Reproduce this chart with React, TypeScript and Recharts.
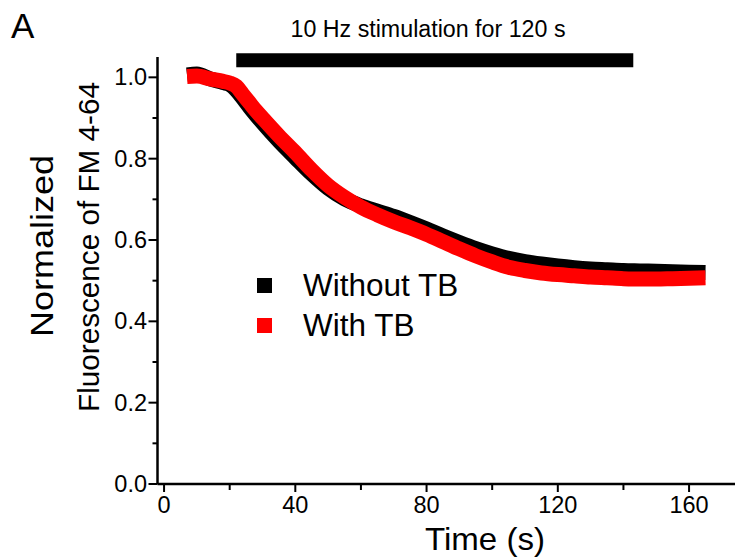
import React from "react";
import { LineChart, Line, XAxis, YAxis, ReferenceArea, Legend } from "recharts";

// time points (s)
const times = [
  7, 10, 14, 18, 20, 22, 24, 26, 28, 30, 35, 40, 45, 50, 55, 60, 65, 70, 75, 80,
  85, 90, 95, 100, 105, 110, 115, 120, 125, 130, 135, 140, 145, 150, 155, 160, 165,
];
const withoutTB = [
  1.006, 1.008, 0.996, 0.987, 0.982, 0.968, 0.948, 0.927, 0.907, 0.888, 0.843,
  0.802, 0.762, 0.727, 0.701, 0.684, 0.671, 0.658, 0.643, 0.627, 0.61, 0.594,
  0.579, 0.566, 0.555, 0.547, 0.541, 0.536, 0.532, 0.529, 0.527, 0.525, 0.524,
  0.523, 0.522, 0.521, 0.52,
];
const withTB = [
  1.002, 1.003, 0.996, 0.99, 0.986, 0.978, 0.958, 0.938, 0.918, 0.9, 0.856,
  0.815, 0.772, 0.734, 0.705, 0.681, 0.662, 0.645, 0.63, 0.614, 0.596, 0.578,
  0.561, 0.546, 0.533, 0.525, 0.519, 0.515, 0.512, 0.509, 0.507, 0.505, 0.504,
  0.504, 0.505, 0.506, 0.507,
];
const seriesNames = ["Without TB", "With TB"];
const stimulation = [22, 143];
const xTicks = [0, 20, 40, 60, 80, 100, 120, 140, 160];
const yTicks = [0, 0.1, 0.2, 0.3, 0.4, 0.5, 0.6, 0.7, 0.8, 0.9, 1.0];

const data = times.map((t, i) => ({ t, without: withoutTB[i], with: withTB[i] }));

const FONT = '"Liberation Sans", Arial, Helvetica, sans-serif';

const XTick = (props: any) => {
  const { x, y, payload } = props;
  const major = payload.value % 40 === 0;
  return (
    <g>
      <line x1={x} x2={x} y1={y} y2={y + (major ? 8 : 6)} stroke="#000" strokeWidth={2} />
      {major && (
        <text x={x} y={y + 29} textAnchor="middle" fontSize={23.5} fill="#000" fontFamily={FONT}>
          {payload.value}
        </text>
      )}
    </g>
  );
};

const YTick = (props: any) => {
  const { x, y, payload } = props;
  const major = Math.round(payload.value * 10) % 2 === 0;
  return (
    <g>
      <line x1={x} x2={x - (major ? 9 : 5)} y1={y} y2={y} stroke="#000" strokeWidth={2} />
      {major && (
        <text x={x - 10.5} y={y + 8} textAnchor="end" fontSize={23.5} fill="#000" fontFamily={FONT}>
          {payload.value.toFixed(1)}
        </text>
      )}
    </g>
  );
};

const LegendBox = (props: any) => {
  const items = [...(props.payload || [])].sort(
    (a: any, b: any) => seriesNames.indexOf(a.value) - seriesNames.indexOf(b.value)
  );
  return (
    <div style={{ fontFamily: FONT }}>
      {items.map((p: any) => (
        <div key={p.value} style={{ display: "flex", alignItems: "center", height: 40 }}>
          <span style={{ width: 15, height: 15, background: p.color, marginRight: 31 }} />
          <span style={{ fontSize: 31.5, color: "#000" }}>{p.value}</span>
        </div>
      ))}
    </div>
  );
};

export default function App() {
  return (
    <div style={{ position: "relative", width: 735, height: 560, background: "#fff" }}>
      <style>{`body{margin:0}`}</style>
      <LineChart width={735} height={560} data={data} margin={{ top: 57, right: 0, bottom: 0, left: 0 }}>
        <XAxis
          dataKey="t"
          type="number"
          domain={[-2, 174]}
          ticks={xTicks}
          interval={0}
          height={76}
          tickSize={0}
          tickMargin={0}
          tickLine={false}
          tick={<XTick />}
          axisLine={{ stroke: "#000", strokeWidth: 2.5 }}
        />
        <YAxis
          type="number"
          domain={[0, 1.05]}
          ticks={yTicks}
          interval={0}
          width={157.5}
          tickSize={0}
          tickMargin={0}
          tickLine={false}
          tick={<YTick />}
          axisLine={{ stroke: "#000", strokeWidth: 2.5 }}
        />
        <ReferenceArea
          x1={stimulation[0]}
          x2={stimulation[1]}
          y1={1.025}
          y2={1.059}
          fill="#000"
          fillOpacity={1}
          stroke="none"
          ifOverflow="visible"
        />
        <Line
          type="monotone"
          dataKey="without"
          name={seriesNames[0]}
          stroke="#000"
          strokeWidth={15}
          strokeLinecap="butt"
          dot={false}
          isAnimationActive={false}
        />
        <Line
          type="monotone"
          dataKey="with"
          name={seriesNames[1]}
          stroke="#ff0000"
          strokeWidth={15}
          strokeLinecap="butt"
          dot={false}
          isAnimationActive={false}
        />
        <Legend
          content={<LegendBox />}
          layout="vertical"
          align="center"
          verticalAlign="middle"
          wrapperStyle={{ left: 257, top: 265, width: "auto", bottom: "auto", right: "auto" }}
        />
      </LineChart>
      <svg
        width={735}
        height={560}
        style={{ position: "absolute", left: 0, top: 0, pointerEvents: "none" }}
        fontFamily={FONT}
      >
        <text x={11} y={38} fontSize={35} fill="#000">A</text>
        <text x={428} y={37} fontSize={23} textAnchor="middle" fill="#000" textLength={275} lengthAdjust="spacingAndGlyphs">
          10 Hz stimulation for 120 s
        </text>
        <text x={485} y={550} fontSize={32} textAnchor="middle" fill="#000" textLength={120} lengthAdjust="spacingAndGlyphs">
          Time (s)
        </text>
        <text transform="translate(53,246) rotate(-90)" fontSize={31} textAnchor="middle" fill="#000" textLength={182} lengthAdjust="spacingAndGlyphs">
          Normalized
        </text>
        <text transform="translate(99,247) rotate(-90)" fontSize={30} textAnchor="middle" fill="#000" textLength={330} lengthAdjust="spacingAndGlyphs">
          Fluorescence of FM 4-64
        </text>
      </svg>
    </div>
  );
}
